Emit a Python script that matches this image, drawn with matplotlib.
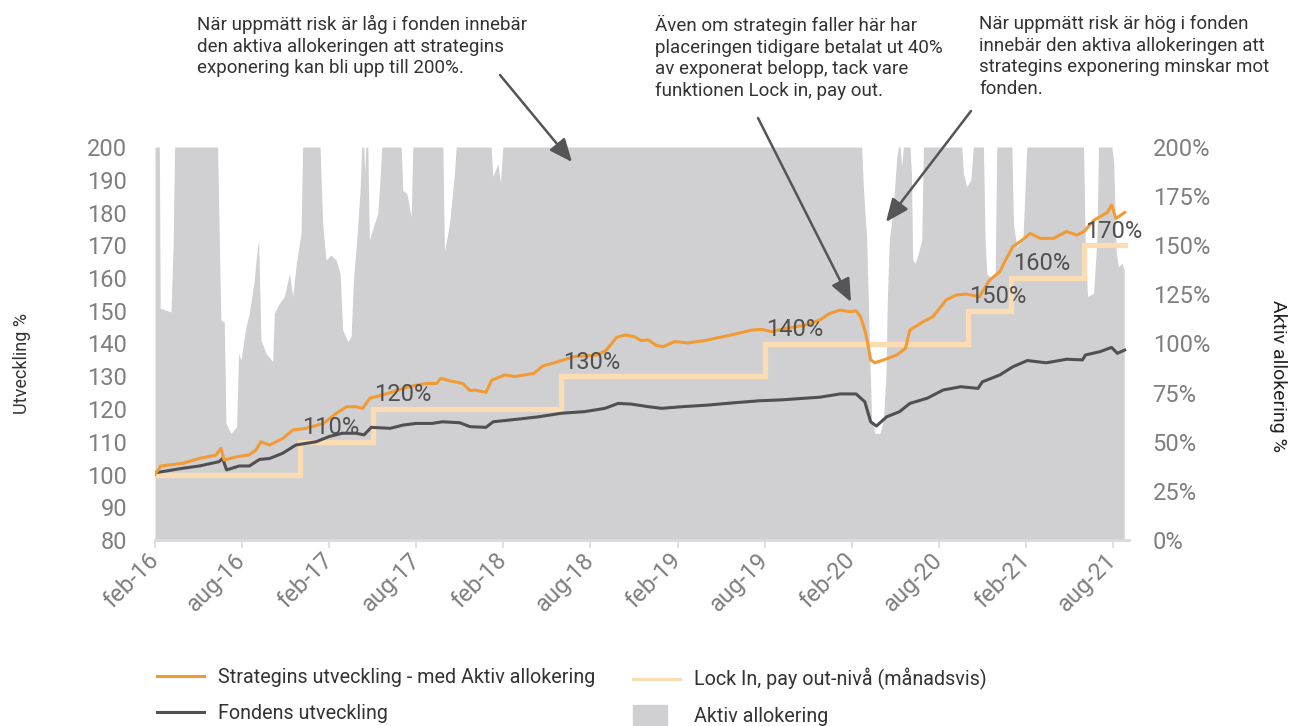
import numpy as np
import matplotlib.pyplot as plt
import matplotlib.patches as mpatches
from matplotlib.lines import Line2D
from matplotlib.legend_handler import HandlerPatch

plt.rcParams['font.family'] = ['Roboto', 'DejaVu Sans']

W, H = 1293, 726

# x values are months after 1 feb 2016
tick_months = list(range(0, 67, 6))
tick_labels = ['feb-16', 'aug-16', 'feb-17', 'aug-17', 'feb-18', 'aug-18',
               'feb-19', 'aug-19', 'feb-20', 'aug-20', 'feb-21', 'aug-21']

strat_month = [
    0, 0.4, 1.9, 3.05, 4.2, 4.54, 4.77, 5.6, 6.5, 6.96,
    7.3, 7.9, 8.8, 9.5, 10.4, 11.6, 12.5, 13.2, 13.85, 14.3,
    14.8, 15.7, 17.1, 18.0, 18.7, 19.4, 19.7, 20.3, 21.2, 21.7,
    22.0, 22.8, 23.2, 24.1, 24.8, 26.1, 26.7, 27.5, 28.9, 30.5,
    31.1, 31.8, 32.4, 33.0, 33.5, 34.0, 34.5, 35.0, 35.8, 36.7,
    37.9, 38.6, 39.7, 41.1, 41.8, 42.5, 43.4, 44.8, 45.8, 46.5,
    47.2, 47.9, 48.3, 48.6, 48.9, 49.1, 49.3, 49.6, 50.2, 51.1,
    51.7, 52.0, 52.9, 53.6, 54.5, 55.2, 55.9, 56.8, 57.5, 58.2,
    58.6, 59.1, 59.6, 60.3, 61.0, 61.9, 62.8, 63.5, 64.0, 64.7,
    65.6, 65.9, 66.2, 66.8]
strat_val = [
    100.0, 102.6, 103.4, 104.9, 105.9, 108.0, 104.4, 105.4, 106.0, 107.5,
    110.0, 109.0, 111.0, 113.6, 114.1, 115.6, 118.7, 120.7, 120.7, 120.2,
    123.3, 124.3, 126.3, 127.3, 127.8, 127.8, 129.4, 128.6, 127.8, 125.6,
    125.8, 125.1, 128.8, 130.4, 129.9, 130.9, 133.1, 134.1, 136.0, 136.5,
    138.0, 141.9, 142.6, 142.1, 140.9, 141.1, 139.5, 139.0, 140.6, 140.2,
    140.9, 141.6, 142.6, 144.1, 144.3, 143.6, 144.6, 145.6, 147.2, 149.2,
    150.2, 149.7, 150.0, 148.2, 144.1, 140.1, 135.0, 134.1, 135.0, 136.5,
    138.5, 144.1, 146.6, 148.2, 153.3, 154.8, 155.1, 154.3, 159.4, 161.9,
    165.5, 169.6, 171.1, 173.6, 172.1, 172.1, 174.2, 173.1, 174.2, 177.7,
    180.0, 182.3, 178.2, 180.0]

fund_month = [
    0, 1.9, 3.05, 4.4, 4.66, 4.93, 5.8, 6.5, 7.2, 7.9,
    8.8, 9.7, 11.1, 12.0, 12.9, 13.85, 14.4, 14.9, 16.2, 17.1,
    18.0, 19.1, 19.8, 21.0, 21.7, 22.8, 23.3, 24.8, 26.4, 28.0,
    29.6, 31.0, 31.9, 32.8, 34.0, 34.9, 36.3, 38.1, 39.9, 41.6,
    43.2, 44.8, 45.8, 47.2, 48.3, 48.9, 49.3, 49.7, 50.4, 51.3,
    52.0, 53.2, 54.3, 55.5, 56.7, 57.0, 58.2, 59.1, 60.1, 61.4,
    62.8, 63.9, 64.1, 65.1, 65.9, 66.3, 66.8]
fund_val = [
    100.5, 101.9, 102.6, 103.9, 104.9, 101.4, 102.6, 102.6, 104.6, 104.9,
    106.5, 109.0, 110.0, 111.6, 112.6, 112.6, 112.1, 114.4, 114.1, 115.1,
    115.6, 115.6, 116.1, 115.8, 114.6, 114.4, 116.1, 116.8, 117.6, 118.7,
    119.2, 120.2, 121.7, 121.5, 120.7, 120.2, 120.7, 121.2, 121.9, 122.5,
    122.8, 123.3, 123.6, 124.6, 124.6, 122.2, 116.1, 114.8, 117.6, 119.2,
    121.7, 123.3, 125.8, 126.8, 126.3, 128.3, 130.4, 132.9, 134.8, 134.1,
    135.2, 135.0, 136.5, 137.5, 138.8, 137.0, 138.0]

lock_month = [0, 10, 15, 28, 42, 56, 59, 64, 66.8]
lock_level = [100, 110, 120, 130, 140, 150, 160, 170, 170]

alloc_month = [
    0.0, 0.30, 0.36, 1.10, 1.25, 1.35, 4.31, 4.43, 4.54, 4.77,
    4.89, 5.23, 5.62, 5.76, 5.92, 6.27, 6.50, 6.84, 6.96, 7.14,
    7.30, 7.65, 8.11, 8.22, 8.57, 8.91, 9.26, 9.49, 9.71, 10.06,
    10.17, 11.37, 11.55, 11.78, 12.13, 12.47, 12.75, 12.93, 13.28, 13.51,
    13.67, 13.90, 14.13, 14.24, 14.38, 14.45, 14.52, 14.66, 14.77, 15.05,
    15.35, 15.53, 15.62, 16.96, 17.07, 17.35, 17.65, 17.76, 19.83, 19.94,
    20.29, 20.63, 20.75, 23.16, 23.27, 23.62, 23.80, 23.96, 48.68, 48.80,
    49.03, 49.21, 49.37, 49.60, 49.95, 50.18, 50.36, 50.45, 50.59, 50.87,
    51.10, 51.21, 51.33, 51.44, 51.56, 52.02, 52.11, 52.20, 52.36, 52.59,
    52.82, 52.94, 55.58, 55.69, 55.92, 56.20, 56.38, 57.07, 57.19, 57.30,
    57.65, 57.88, 57.99, 59.03, 59.14, 59.37, 59.79, 60.06, 63.97, 64.08,
    64.24, 64.66, 64.89, 65.00, 65.92, 66.04, 66.22, 66.38, 66.61, 66.77]
alloc_pct = [
    200, 200, 118, 116, 150, 200, 200, 152.7, 112, 111,
    59.5, 54.3, 57.6, 95, 91.6, 108.6, 115.4, 132.3, 142.5, 152.7,
    101.8, 95, 90.8, 115.4, 120.5, 123.9, 135.7, 123.9, 139.1, 156.1,
    200, 200, 161, 142.5, 145, 142.5, 135.7, 106.9, 101, 103.5,
    132.3, 152.7, 178, 200, 200, 186.6, 200, 200, 152.7, 159.5,
    166.3, 186.6, 200, 200, 178, 176.3, 164.5, 200, 200, 146.6,
    161, 186.6, 200, 200, 184.9, 191.6, 181.5, 200, 200, 179.8,
    152.7, 101.8, 61, 54.3, 54.3, 61, 84.8, 122, 152.7, 169.6,
    195, 200, 200, 190, 200, 200, 186.6, 142.5, 140.8, 145.9,
    152.7, 200, 200, 186.6, 179.8, 183.2, 200, 200, 152.7, 135.7,
    132.3, 135.7, 200, 200, 161, 149.2, 152.7, 200, 200, 152.7,
    123.9, 125.6, 152.7, 200, 200, 193, 145.9, 139.1, 140.8, 137.4]

notes = [
    "När uppmätt risk är låg i fonden innebär\nden aktiva allokeringen att strategins\nexponering kan bli upp till 200%.",
    "Även om strategin faller här har\nplaceringen tidigare betalat ut 40%\nav exponerat belopp, tack vare\nfunktionen Lock in, pay out.",
    "När uppmätt risk är hög i fonden\ninnebär den aktiva allokeringen att\nstrategins exponering minskar mot\nfonden.",
]
series_names = ['Strategins utveckling - med Aktiv allokering', 'Fondens utveckling',
                'Lock In, pay out-nivå (månadsvis)', 'Aktiv allokering']

c_orange = '#F29A33'
c_fund = '#505052'
c_lock = '#FCDDB3'
c_gray = '#D0D0D2'
c_tick = '#7F7F7F'
c_text = '#333333'


def fpos(x, y):
    # picture pixels (from top left) -> figure fraction
    return x / W, 1 - y / H


fig = plt.figure(figsize=(W / 100, H / 100), dpi=100)
ax = fig.add_axes([155 / W, 1 - 540 / H, (1129 - 155) / W, (540 - 147) / H])
ax2 = ax.twinx()

ax2.fill_between(alloc_month, alloc_pct, 0, color=c_gray, lw=0)
ax2.set_ylim(0, 200)
ax.set_zorder(ax2.get_zorder() + 1)
ax.patch.set_visible(False)

ax.plot(lock_month, lock_level, color=c_lock, lw=3.8, drawstyle='steps-post', solid_joinstyle='miter')
ax.plot(fund_month, fund_val, color=c_fund, lw=2.2)
ax.plot(strat_month, strat_val, color=c_orange, lw=2.2)

for m, lvl in zip(lock_month[1:-1], lock_level[1:-1]):
    ax.text(m + 0.1, lvl + 2.3, f'{lvl}%', fontsize=17, color='#505050', va='baseline', ha='left')

ax.set_xlim(0, 67.1)
ax.set_ylim(80, 200)
ax.set_yticks(range(80, 201, 10))
ax.set_xticks(tick_months)
ax.set_xticklabels(tick_labels, rotation=45, ha='right', va='center', rotation_mode='anchor')
ax.tick_params(axis='x', length=6, width=1.2, color='#D9D9D9', labelsize=17, labelcolor=c_tick, pad=6)
ax.tick_params(axis='y', length=0, labelsize=17, labelcolor=c_tick, pad=20)

ax2.set_yticks(range(0, 201, 25))
ax2.set_yticklabels([f'{v}%' for v in range(0, 201, 25)])
ax2.tick_params(axis='y', length=0, labelsize=17, labelcolor=c_tick, pad=17)

for s in ['top', 'left', 'right']:
    ax.spines[s].set_visible(False)
for s in ax2.spines.values():
    s.set_visible(False)
ax.spines['bottom'].set_color('#D9D9D9')
ax.spines['bottom'].set_linewidth(2)

fig.text(*fpos(22, 364), 'Utveckling %', rotation=90, ha='center', va='center', fontsize=13, color=c_text)
fig.text(*fpos(1278, 376), 'Aktiv allokering %', rotation=270, ha='center', va='center', fontsize=14, color='#222222')

# notes and arrows above the plot
for (tx, ty), note in zip([(197, 15), (655, 15), (979, 15)], notes):
    fig.text(*fpos(tx, ty), note, ha='left', va='top', fontsize=13.5, color=c_text, linespacing=1.25)

arrows = [((500, 75), (572, 162)), ((758, 118), (851, 302)), ((971, 111), (886, 222))]
for tail, tip in arrows:
    ax.annotate('', xy=fpos(*tip), xycoords='figure fraction', xytext=fpos(*tail), textcoords='figure fraction',
                annotation_clip=False,
                arrowprops=dict(arrowstyle='-|>,head_length=0.7,head_width=0.3', color='#555555', lw=1.8,
                                mutation_scale=20, shrinkA=0, shrinkB=0))


def narrow_patch(legend, orig_handle, xdescent, ydescent, width, height, fontsize):
    return mpatches.Rectangle((-xdescent, -ydescent - 0.2 * height), width * 0.72, height * 1.4)


h1 = [Line2D([], [], color=c_orange, lw=2.2), Line2D([], [], color=c_fund, lw=2.2)]
h2 = [Line2D([], [], color=c_lock, lw=2.2), mpatches.Patch(color=c_gray)]
leg_kw = dict(loc='upper left', frameon=False, fontsize=14.2, handlelength=2.4, handletextpad=0.7,
              labelspacing=0.85, borderpad=0, borderaxespad=0, labelcolor=c_text)
fig.legend(h1, series_names[:2], bbox_to_anchor=fpos(157, 668), **leg_kw)
fig.legend(h2, series_names[2:], bbox_to_anchor=fpos(633, 668),
           handler_map={mpatches.Patch: HandlerPatch(patch_func=narrow_patch)}, **leg_kw)

fig.savefig('out.png', dpi=100)
